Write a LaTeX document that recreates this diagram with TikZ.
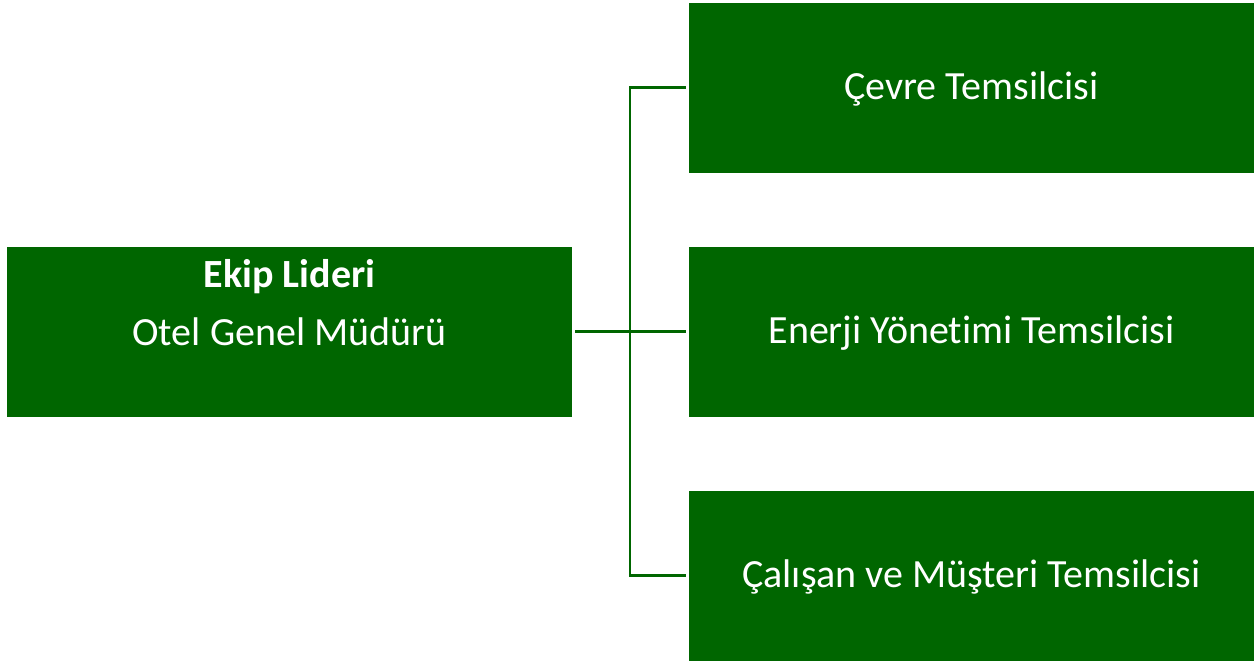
\documentclass[tikz,border=0pt]{standalone}
\usepackage{fontspec}
\setmainfont{Carlito}[Ligatures={NoCommon}]
\usepackage{tikz}
\usetikzlibrary{positioning,calc}
\definecolor{ekipgreen}{RGB}{0,102,0}

\begin{document}
\begin{tikzpicture}[
    x=1pt, y=-1pt,
    box/.style={rectangle, fill=ekipgreen, draw=none, minimum width=565pt, minimum height=170pt, inner sep=0pt,
        text=white, font=\fontsize{40}{48}\selectfont, align=center, text height=30pt, text depth=6pt},
    label/.style={text=white, font=\fontsize{40}{48}\selectfont, inner sep=0pt},
    link/.style={draw=ekipgreen, line width=2.4pt, shorten <=3pt, shorten >=3pt}
]
    \useasboundingbox (0,0) rectangle (1258,664);

    % Nodes
    \node[box] (lider) at (289.5,331.5) {};
    \node[label, anchor=base] (liderunvan) at (289.5,287) {\textbf{Ekip Lideri}};
    \node[label, anchor=base] (lidergorev) at (289.5,345) {Otel Genel Müdürü};
    \node[box] (cevre) at (971.5,87.5) {Çevre Temsilcisi};
    \node[box] (enerji) at (971.5,331.5) {Enerji Yönetimi Temsilcisi};
    \node[box] (calisan) at (971.5,575.5) {Çalışan ve Müşteri Temsilcisi};

    % Connectors
    \coordinate (bus) at (630,331.5);
    \draw[link] (lider.east) -- (enerji.west);
    \draw[link, shorten <=0pt] (bus) |- (cevre.west);
    \draw[link, shorten <=0pt] (bus) |- (calisan.west);
\end{tikzpicture}
\end{document}
